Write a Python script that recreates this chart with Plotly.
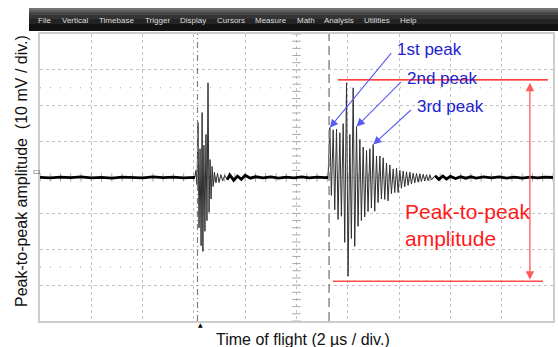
import plotly.graph_objects as go

W, H = 558, 347

# ---------------- waveform (time in µs, amplitude in mV) ----------------
trace_us = [
    0.0, 0.4, 0.8, 1.2, 1.6, 2.0, 2.4, 2.8, 3.2, 3.6, 4.0, 4.4, 4.8, 5.2, 5.6, 6.0,
    # first echo
    6.04, 6.08, 6.12, 6.16, 6.20, 6.24, 6.28, 6.32, 6.35, 6.39, 6.43, 6.47, 6.51,
    6.55, 6.59, 6.63, 6.67, 6.71, 6.75, 6.80, 6.86, 6.92, 6.98, 7.05, 7.12, 7.20, 7.30,
    # quiet interval
    7.40, 7.55, 7.70, 7.85, 8.00, 8.20, 8.40, 8.70, 9.00, 9.30, 9.60, 9.90, 10.20,
    10.50, 10.80, 11.10,
    # second echo
    11.23, 11.30, 11.36, 11.43, 11.49, 11.56, 11.62, 11.69, 11.75, 11.82, 11.88,
    11.95, 12.01, 12.08, 12.14, 12.21, 12.27, 12.34, 12.40, 12.47, 12.53, 12.60,
    12.66, 12.73, 12.79, 12.86, 12.92, 12.99, 13.05, 13.12, 13.18, 13.25, 13.31,
    13.38, 13.44, 13.51, 13.57, 13.64, 13.70, 13.77, 13.83, 13.90, 13.96, 14.03,
    14.09, 14.16, 14.22, 14.29, 14.35, 14.42, 14.48, 14.55, 14.61, 14.68, 14.74,
    14.81, 14.87, 14.94, 15.00, 15.07, 15.13, 15.20, 15.26,
    # tail
    15.40, 15.55, 15.70, 15.85, 16.00, 16.20, 16.40, 16.60, 16.80, 17.00, 17.30,
    17.60, 17.90, 18.20, 18.50, 18.80, 19.10, 19.40, 19.70, 20.00,
]
trace_mv = [
    0.05, -0.1, 0.1, -0.05, 0.15, -0.1, 0.05, -0.15, 0.1, 0.0, -0.1, 0.15, -0.05, 0.1, -0.1, 0.05,
    0.0, 2.0, -2.0, 15.3, -14.0, 8.0, -19.0, 18.1, -20.6, 9.0, -15.0, 12.0, -12.0,
    26.4, -9.7, 5.0, -6.0, 3.1, -2.5, 1.5, -1.5, 1.2, -1.4, 0.8, -1.0, 0.6, -0.6,
    0.7, -0.8, 0.4, -0.5, 0.6, -0.2, 0.2, -0.1, 0.15, -0.15, 0.1, -0.1, 0.15,
    -0.1, 0.1, -0.05,
    0.0, 13.9, -5.0, 13.3, -9.0, 13.5, -11.7, 12.5, -10.8, 15.0, -18.1,
    26.4, -27.5, 12.0, -17.0, 25.0, -19.2, 14.2, -13.6, 10.6, -12.0, 8.5,
    -11.0, 7.5, -9.5, 8.0, -8.5, 9.2, -9.4, 6.0, -7.0, 6.0, -6.0,
    5.5, -6.1, 4.0, -6.5, 3.5, -4.5, 2.4, -4.2, 2.6, -4.2, 2.0,
    -3.0, 1.8, -2.6, 1.6, -2.2, 1.5, -1.8, 1.2, -1.5, 1.1, -1.3,
    1.0, -1.1, 0.9, -1.0, 0.8, -0.9, 0.7, -0.7,
    0.5, -0.5, 0.4, -0.4, 0.3, -0.3, 0.2, -0.2, 0.2, -0.15, 0.15,
    -0.1, 0.15, -0.15, 0.1, -0.15, 0.1, -0.1, 0.1, 0.0,
]

# echo windows (µs) where the trace is drawn thin
echo_windows = [(6.05, 7.25), (11.24, 15.3)]

# peak labels: (text, peak time µs, peak mV, label time µs, label mV)
peak_labels = [
    ("1st peak", 11.30, 13.9, 13.84, 35.6),
    ("2nd peak", 12.34, 14.2, 14.23, 27.5),
    ("3rd peak", 12.99, 9.2, 14.62, 19.7),
]
p2p_top_mv, p2p_bottom_mv = 27.2, -28.9
trigger_us, gate_us = 6.14, 11.27
cursor_mv = [25.0, -25.0]

menu_items = ["File", "Vertical", "Timebase", "Trigger", "Display", "Cursors",
              "Measure", "Math", "Analysis", "Utilities", "Help"]
menu_x = [36, 60, 97, 143, 178, 215, 253, 295, 322, 362, 398]


def px(x):
    return x / W


def py(y):
    return 1 - y / H


def in_echo(t):
    return any(a <= t <= b for a, b in echo_windows)


fig = go.Figure()

# graticule tick marks on the centre lines
fig.add_trace(go.Scatter(
    x=[10] * 41, y=[-40 + 2 * i for i in range(41)], mode="markers",
    marker=dict(symbol="line-ew", size=6, line=dict(color="#a8a8a8", width=1)),
    hoverinfo="skip"))
fig.add_trace(go.Scatter(
    x=[0.4 * i for i in range(51)], y=[0] * 51, mode="markers",
    marker=dict(symbol="line-ns", size=6, line=dict(color="#a8a8a8", width=1)),
    hoverinfo="skip"))

# waveform: thin through the echoes, heavier band through the quiet baseline
fig.add_trace(go.Scatter(x=trace_us, y=trace_mv, mode="lines",
                         line=dict(color="#303030", width=1), hoverinfo="skip"))
quiet = [v if not in_echo(t) else None for t, v in zip(trace_us, trace_mv)]
fig.add_trace(go.Scatter(x=trace_us, y=quiet, mode="lines", connectgaps=False,
                         line=dict(color="#000000", width=2.8), hoverinfo="skip"))

shapes = []
# menu bar gradient
bands = [(8, 10, "#747474"), (10, 12, "#5e5e5e"), (12, 15, "#474747"),
         (15, 19, "#343434"), (19, 24, "#242424"), (24, 31, "#121212")]
for y0, y1, c in bands:
    shapes.append(dict(type="rect", xref="paper", yref="paper",
                       x0=px(29), x1=1, y0=py(y1), y1=py(y0),
                       fillcolor=c, line=dict(width=0), layer="above"))

# cursor levels (sparse dots)
for lv in cursor_mv:
    shapes.append(dict(type="line", xref="x", yref="y", x0=0, x1=20, y0=lv, y1=lv,
                       line=dict(color="#a0a0a0", width=1, dash="1px,9px"), layer="below"))
# trigger and gate markers
shapes.append(dict(type="line", xref="x", yref="y", x0=trigger_us, x1=trigger_us,
                   y0=-40, y1=40, line=dict(color="#808080", width=1.2, dash="6px,3px,1px,3px")))
shapes.append(dict(type="line", xref="x", yref="y", x0=gate_us, x1=gate_us,
                   y0=-40, y1=40, line=dict(color="#8a8a8a", width=1.5, dash="9px,5px")))
# peak-to-peak reference lines
shapes.append(dict(type="line", xref="x", yref="y", x0=11.62, x1=19.8,
                   y0=p2p_top_mv, y1=p2p_top_mv, line=dict(color="#ff0000", width=1.2)))
shapes.append(dict(type="line", xref="x", yref="y", x0=11.42, x1=19.61,
                   y0=p2p_bottom_mv, y1=p2p_bottom_mv, line=dict(color="#ff4d4d", width=1.5)))

annotations = []
for name, x in zip(menu_items, menu_x):
    annotations.append(dict(text=name, xref="paper", yref="paper", x=px(x), y=py(20),
                            xanchor="left", yanchor="middle", showarrow=False,
                            font=dict(family="Liberation Sans", size=8, color="#dcdcdc")))

# double-headed peak-to-peak arrow
annotations.append(dict(x=19.1, y=p2p_bottom_mv + 0.4, ax=19.1, ay=p2p_top_mv - 0.4,
                        xref="x", yref="y", axref="x", ayref="y", text="",
                        showarrow=True, arrowside="end+start", arrowhead=2,
                        arrowsize=1.3, arrowwidth=1.3, arrowcolor="#ff5a5a"))
annotations.append(dict(text="Peak-to-peak<br>amplitude", x=14.15, y=-13.3,
                        xref="x", yref="y", xanchor="left", yanchor="middle",
                        align="left", showarrow=False,
                        font=dict(family="Liberation Sans", size=21, color="#ff1a1a")))

for name, t_pk, v_pk, t_lb, v_lb in peak_labels:
    annotations.append(dict(x=t_pk, y=v_pk, ax=t_lb - 0.1, ay=v_lb - 0.5,
                            xref="x", yref="y", axref="x", ayref="y", text="",
                            showarrow=True, arrowhead=2, arrowsize=1.5,
                            arrowwidth=1.1, arrowcolor="#5b5bf0"))
    annotations.append(dict(text=name, x=t_lb, y=v_lb, xref="x", yref="y",
                            xanchor="left", yanchor="middle", showarrow=False,
                            font=dict(family="Liberation Sans", size=17, color="#2121d0")))

# axis titles and small screen markers
annotations.append(dict(text="Time of flight (2 µs / div.)", xref="paper", yref="paper",
                        x=px(303), y=py(339), xanchor="center", yanchor="middle",
                        showarrow=False,
                        font=dict(family="Liberation Sans", size=16, color="#111111")))
annotations.append(dict(text="Peak-to-peak amplitude  (10 mV / div.)", xref="paper",
                        yref="paper", x=px(21), y=py(171), xanchor="center",
                        yanchor="middle", textangle=-90, showarrow=False,
                        font=dict(family="Liberation Sans", size=16, color="#111111")))
annotations.append(dict(text="C1", xref="paper", yref="paper", x=px(37), y=py(172),
                        xanchor="center", yanchor="middle", showarrow=False,
                        font=dict(family="Liberation Sans", size=6, color="#555555")))
annotations.append(dict(text="▲", xref="paper", yref="paper", x=px(200.7), y=py(324),
                        xanchor="center", yanchor="middle", showarrow=False,
                        font=dict(family="DejaVu Sans", size=6, color="#000000")))

axis_common = dict(showgrid=True, gridcolor="#c2c2c2", griddash="dot", gridwidth=1,
                   showticklabels=False, ticks="", zeroline=False, showline=True,
                   linecolor="#cccccc", linewidth=1.5, mirror=True, fixedrange=True)

fig.update_layout(
    width=W, height=H, margin=dict(l=0, r=0, t=0, b=0),
    paper_bgcolor="white", plot_bgcolor="white", showlegend=False,
    xaxis=dict(range=[0, 20], dtick=2, domain=[40 / W, 553 / W], **axis_common),
    yaxis=dict(range=[-40, 40], dtick=10, domain=[1 - 321 / H, 1 - 34 / H], **axis_common),
    shapes=shapes, annotations=annotations,
)

fig.write_html("out.html")
